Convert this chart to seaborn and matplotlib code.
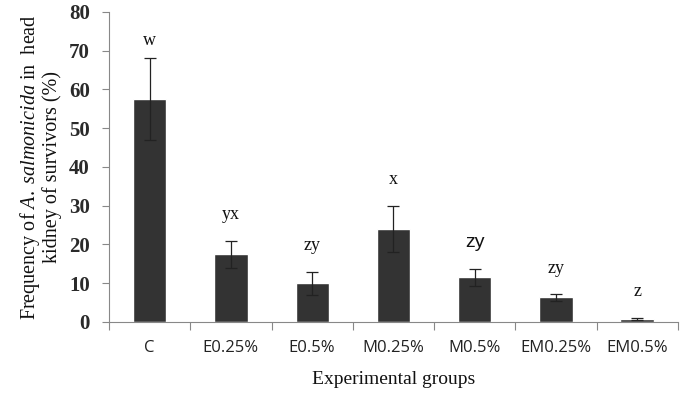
import numpy as np
import pandas as pd
import matplotlib
matplotlib.use("Agg")
import matplotlib.pyplot as plt
import seaborn as sns

groups = ["C", "E0.25%", "E0.5%", "M0.25%", "M0.5%", "EM0.25%", "EM0.5%"]
frequency = [57.5, 17.5, 10.0, 24.0, 11.5, 6.3, 0.8]
error = [10.5, 3.5, 3.0, 6.0, 2.2, 0.8, 0.3]
letters = ["w", "yx", "zy", "x", "zy", "zy", "z"]

sns.set_theme(style="white")
plt.rcParams["mathtext.fontset"] = "custom"
plt.rcParams["mathtext.it"] = "Liberation Serif:italic"
plt.rcParams["mathtext.rm"] = "Liberation Serif"

df = pd.DataFrame({"group": groups, "frequency": frequency, "error": error})

fig, ax = plt.subplots(figsize=(6.86, 3.94), dpi=100)
fig.subplots_adjust(left=0.159, right=0.988, top=0.97, bottom=0.183)

sns.barplot(data=df, x="group", y="frequency", color="#333333", saturation=1,
            width=0.41, errorbar=None, ax=ax)
xpos = np.arange(len(groups))
ax.errorbar(xpos, df["frequency"], yerr=df["error"], fmt="none",
            ecolor="#222222", elinewidth=0.9, capsize=4, capthick=0.9)

# significance letters sit a little above each error bar
for i, (v, e, lab) in enumerate(zip(frequency, error, letters)):
    fam = "Liberation Sans" if i == 4 else "Liberation Serif"
    size = 14 if i == 4 else 13
    gap = 4.5 if i == 0 else 6.8
    ax.text(i, v + e + gap, lab, ha="center", va="center", fontsize=size,
            family=fam, color="#111111")

ax.set_ylim(0, 80)
ax.set_xlim(-0.5, len(groups) - 0.5)
ax.set_yticks(range(0, 81, 10))
ax.set_yticklabels([str(t) for t in range(0, 81, 10)],
                   family="Liberation Serif", fontsize=15, fontweight="bold",
                   color="#2a2a2a")
ax.set_xticks(xpos)
ax.set_xticklabels(groups, family="Open Sans", fontsize=12, color="#222222")
ax.set_xticks(np.arange(-0.5, len(groups), 1.0), minor=True)
ax.tick_params(axis="x", which="major", length=0, pad=13)
ax.tick_params(axis="x", which="minor", length=6, width=0.8, color="#888888",
               direction="out", bottom=True)
ax.tick_params(axis="y", length=5, width=0.8, color="#888888", direction="out",
               left=True, pad=9)

for s in ["top", "right"]:
    ax.spines[s].set_visible(False)
for s in ["left", "bottom"]:
    ax.spines[s].set_color("#888888")
    ax.spines[s].set_linewidth(0.8)

ax.set_xlabel("Experimental groups", family="Liberation Serif", fontsize=14,
              color="#111111", labelpad=11)
ax.set_ylabel("Frequency of $\\it{A.\\ salmonicida}$ in  head\nkidney of survivors (%)",
              family="Liberation Serif", fontsize=14.5, color="#111111",
              linespacing=1.0, labelpad=5)

fig.savefig("out.png", dpi=100, facecolor="white")
